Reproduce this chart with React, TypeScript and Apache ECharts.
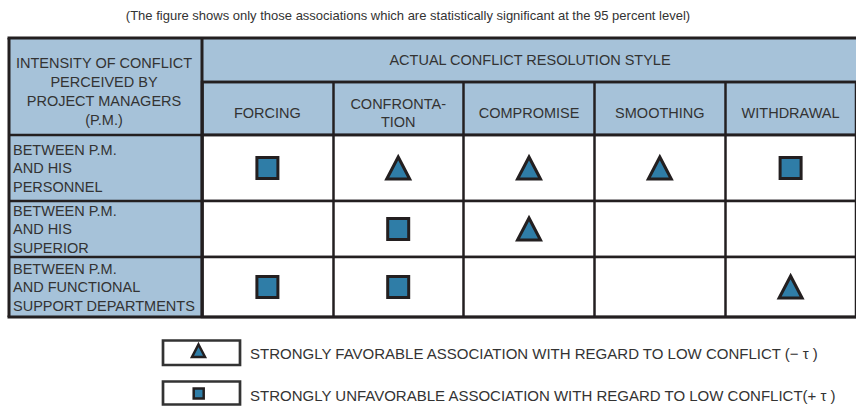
import React, { useEffect, useRef } from "react";
import * as echarts from "echarts";

const TITLE =
  "(The figure shows only those associations which are statistically significant at the 95 percent level)";
const HEADER_LEFT = "INTENSITY OF CONFLICT\nPERCEIVED BY\nPROJECT MANAGERS\n(P.M.)";
const HEADER_TOP = "ACTUAL CONFLICT RESOLUTION STYLE";
const styles = ["FORCING", "CONFRONTA-\nTION", "COMPROMISE", "SMOOTHING", "WITHDRAWAL"];
const perceptions = [
  "BETWEEN P.M.\nAND HIS\nPERSONNEL",
  "BETWEEN P.M.\nAND HIS\nSUPERIOR",
  "BETWEEN P.M.\nAND FUNCTIONAL\nSUPPORT DEPARTMENTS",
];
// "-" = strongly favorable (triangle), "+" = strongly unfavorable (square), "" = not significant
const personnelRow = ["+", "-", "-", "-", "+"];
const superiorRow = ["", "+", "-", "", ""];
const functionalRow = ["+", "+", "", "", "-"];
const associationRows = [personnelRow, superiorRow, functionalRow];
const legendLabels = [
  "STRONGLY FAVORABLE ASSOCIATION WITH REGARD TO LOW CONFLICT (\u2212 \u03c4 )",
  "STRONGLY UNFAVORABLE ASSOCIATION WITH REGARD TO LOW CONFLICT(+ \u03c4 )",
];

const FONT = "'Liberation Sans', Arial, Helvetica, sans-serif";
const BLUE = "#a6c2d9";
const LINE = "#231f20";
const TEXT = "#333333";
const FILL = "#2f7da7";

// layout
const L = 9;
const CX = 202;
const R = 858;
const T = 38;
const H1 = 82;
const H2 = 135;
const ROW_BOUNDS = [135, 201, 257, 317];

export default function App() {
  const ref = useRef<HTMLDivElement>(null);
  useEffect(() => {
    if (!ref.current) return;
    const chart = echarts.init(ref.current, undefined, { renderer: "svg" });

    const grids: any[] = [
      {
        left: CX,
        top: H1,
        width: R - CX,
        height: H2 - H1,
        show: true,
        backgroundColor: BLUE,
        borderColor: LINE,
        borderWidth: 2.5,
      },
    ];
    const xAxes: any[] = [
      {
        type: "category",
        gridIndex: 0,
        data: styles,
        z: 30,
        axisLine: { show: false },
        axisTick: { show: false },
        splitLine: { show: true, interval: 0, lineStyle: { color: LINE, width: 2.5 } },
        axisLabel: {
          inside: true,
          interval: 0,
          margin: 22,
          verticalAlign: "middle",
          lineHeight: 18,
          fontSize: 14.5,
          fontFamily: FONT,
          color: TEXT,
        },
      },
    ];
    const yAxes: any[] = [
      { type: "category", gridIndex: 0, data: [""], show: false },
    ];
    const series: any[] = [];

    associationRows.forEach((row, i) => {
      const g = i + 1;
      grids.push({
        left: CX,
        top: ROW_BOUNDS[i],
        width: R - CX,
        height: ROW_BOUNDS[i + 1] - ROW_BOUNDS[i],
        show: true,
        backgroundColor: "#ffffff",
        borderColor: LINE,
        borderWidth: 2.5,
      });
      xAxes.push({
        type: "category",
        gridIndex: g,
        data: styles,
        axisLine: { show: false },
        axisTick: { show: false },
        axisLabel: { show: false },
        splitLine: { show: true, interval: 0, lineStyle: { color: LINE, width: 2.5 } },
      });
      yAxes.push({
        type: "category",
        gridIndex: g,
        data: [perceptions[i]],
        z: 30,
        axisLine: { show: false },
        axisTick: { show: false },
        splitLine: { show: false },
        axisLabel: {
          align: "left",
          margin: CX - 13,
          lineHeight: 18.5,
          fontSize: 14.5,
          fontFamily: FONT,
          color: TEXT,
        },
      });
      series.push({
        type: "scatter",
        xAxisIndex: g,
        yAxisIndex: g,
        z: 5,
        itemStyle: { color: FILL, borderColor: LINE, borderWidth: 3, opacity: 1 },
        data: row
          .map((v, c) =>
            v
              ? {
                  value: [c, 0],
                  symbol: v === "+" ? "rect" : "triangle",
                  symbolSize: v === "+" ? 21 : [23, 22],
                }
              : null
          )
          .filter((d) => d !== null),
      });
    });

    const hLine = (x1: number, x2: number, y: number, w = 2.5) => ({
      type: "line",
      z: 20,
      shape: { x1, y1: y, x2, y2: y },
      style: { stroke: LINE, lineWidth: w },
    });
    const vLine = (x: number, y1: number, y2: number, w = 2.5) => ({
      type: "line",
      z: 20,
      shape: { x1: x, y1, x2: x, y2 },
      style: { stroke: LINE, lineWidth: w },
    });

    const graphic: any[] = [
      {
        type: "text",
        x: 408,
        y: 15,
        style: {
          text: TITLE,
          fontSize: 13,
          fontFamily: FONT,
          fill: TEXT,
          align: "center",
          verticalAlign: "middle",
        },
      },
      {
        type: "rect",
        z: -5,
        shape: { x: CX, y: T, width: R - CX, height: H1 - T },
        style: { fill: BLUE },
      },
      {
        type: "rect",
        z: -5,
        shape: { x: L, y: T, width: CX - L, height: ROW_BOUNDS[3] - T },
        style: { fill: BLUE },
      },
      {
        type: "text",
        z: 15,
        x: (CX + R) / 2,
        y: 60,
        style: {
          text: HEADER_TOP,
          fontSize: 14.5,
          fontFamily: FONT,
          fill: TEXT,
          align: "center",
          verticalAlign: "middle",
        },
      },
      {
        type: "text",
        z: 15,
        x: 104,
        y: 91,
        style: {
          text: HEADER_LEFT,
          fontSize: 14.5,
          lineHeight: 19,
          fontFamily: FONT,
          fill: TEXT,
          align: "center",
          verticalAlign: "middle",
        },
      },
      hLine(L - 1.5, R, T, 3),
      hLine(CX, R, H1),
      hLine(L, R, H2),
      hLine(L, CX, ROW_BOUNDS[1]),
      hLine(L, CX, ROW_BOUNDS[2]),
      hLine(L - 1.5, R, ROW_BOUNDS[3], 3),
      vLine(L, T, ROW_BOUNDS[3], 3),
      vLine(CX, T, ROW_BOUNDS[3], 3),
      // legend
      {
        type: "rect",
        shape: { x: 163, y: 340.5, width: 77, height: 24.5 },
        style: { fill: "#ffffff", stroke: "#333333", lineWidth: 2.7 },
      },
      {
        type: "polygon",
        shape: { points: [[198.5, 344.5], [205, 357], [192, 357]] },
        style: { fill: FILL, stroke: LINE, lineWidth: 2.5 },
      },
      {
        type: "rect",
        shape: { x: 163, y: 381.5, width: 77, height: 23 },
        style: { fill: "#ffffff", stroke: "#333333", lineWidth: 2.7 },
      },
      {
        type: "rect",
        shape: { x: 193.7, y: 388.5, width: 10, height: 10 },
        style: { fill: FILL, stroke: LINE, lineWidth: 2.5 },
      },
      {
        type: "text",
        x: 250,
        y: 353.5,
        style: {
          text: legendLabels[0],
          fontSize: 15,
          fontFamily: FONT,
          fill: TEXT,
          align: "left",
          verticalAlign: "middle",
        },
      },
      {
        type: "text",
        x: 250,
        y: 395,
        style: {
          text: legendLabels[1],
          fontSize: 15,
          fontFamily: FONT,
          fill: TEXT,
          align: "left",
          verticalAlign: "middle",
        },
      },
    ];

    chart.setOption({
      animation: false,
      backgroundColor: "#ffffff",
      grid: grids,
      xAxis: xAxes,
      yAxis: yAxes,
      series,
      graphic,
    });
    return () => chart.dispose();
  }, []);

  return (
    <div
      ref={ref}
      style={{ position: "fixed", left: 0, top: 0, width: 856, height: 407 }}
    />
  );
}
